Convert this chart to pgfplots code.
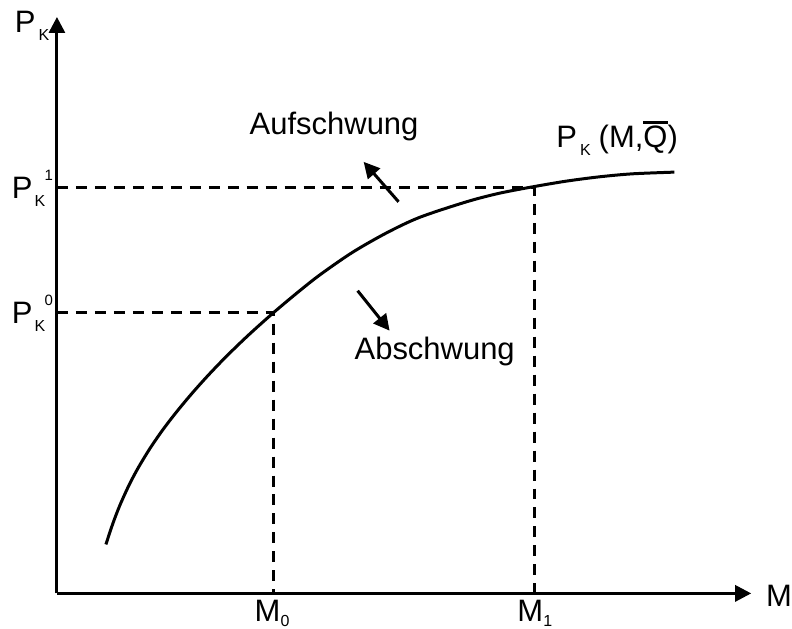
\documentclass[border=0pt]{standalone}
\usepackage{pgfplots}
\pgfplotsset{compat=1.18}
\usetikzlibrary{arrows.meta}
\usepackage{fontspec}
\setmainfont{Liberation Sans}
\newcommand\sub[1]{\raisebox{-4pt}{\fontsize{8}{9}\selectfont #1}}
\newcommand\sups[1]{\raisebox{9pt}{\fontsize{7.5}{8}\selectfont #1}}
\newcommand\obar[1]{\leavevmode\vbox{\hrule height 1.4pt\kern 1.1pt\hbox{#1}}}
\tikzset{lbl/.style={inner sep=0pt, outer sep=0pt, anchor=base west, font=\fontsize{15.5}{18}\selectfont}}
\begin{document}
\begin{tikzpicture}
\begin{axis}[
  x=0.5pt, y=0.5pt,
  xmin=0, xmax=695, ymin=0, ymax=577,
  axis lines=left,
  xtick=\empty, ytick=\empty,
  clip=false,
  axis line style={line width=1.5pt},
  x axis line style={-{Triangle[length=8pt,width=8pt]}},
  y axis line style={-{Triangle[length=8pt,width=8pt]}},
]
\path (axis cs:-57,-35) rectangle (axis cs:735,594);
% curve
\addplot[line width=1.5pt, smooth] coordinates {
(49,49) (56,70) (63,88.2) (72,108) (81,125.1) (93,144.9) (106,163.8)
(120,182) (135,200) (150,216.8) (166,233.6) (181,248.4) (196,262.5)
(217,281.2) (240,300.5) (263,318.7) (296,341.5) (330,360.9) (363,376.4)
(410,392) (443,400.6) (478,407.3) (510,412.7) (543,417) (576,420) (618,421.7)};
% dashed guides
\addplot[line width=1.5pt, dash pattern=on 5.5pt off 4pt] coordinates {(0,406) (478,406) (478,0)};
\addplot[line width=1.5pt, dash pattern=on 5.5pt off 4pt] coordinates {(0,281) (217,281) (217,0)};
% direction arrows
\draw[line width=1.5pt, -{Triangle[length=8pt,width=8pt]}] (axis cs:342,392) -- (axis cs:307,432);
\draw[line width=1.5pt, -{Triangle[length=8pt,width=8pt]}] (axis cs:301,303) -- (axis cs:333,263);
% labels
\node[lbl] at (axis cs:-42,561) {P\hspace{1.5pt}\sub{K}};
\node[lbl] at (axis cs:-45,395) {P\hspace{1pt}\sub{K}\hspace{-0.3pt}\sups{1}};
\node[lbl] at (axis cs:-45,270) {P\hspace{1pt}\sub{K}\hspace{-0.3pt}\sups{0}};
\node[lbl] at (axis cs:198,-28) {M\raisebox{-2.5pt}{\fontsize{8}{9}\selectfont 0}};
\node[lbl] at (axis cs:461,-28) {M\raisebox{-2.5pt}{\fontsize{8}{9}\selectfont 1}};
\node[lbl] at (axis cs:710,-13) {M};
\node[lbl] at (axis cs:193,459) {Aufschwung};
\node[lbl] at (axis cs:298,234) {Abschwung};
\node[lbl] at (axis cs:500,446) {P\hspace{1.5pt}\sub{K}\hspace{4pt}(M,\obar{Q})};
\end{axis}
\end{tikzpicture}
\end{document}
